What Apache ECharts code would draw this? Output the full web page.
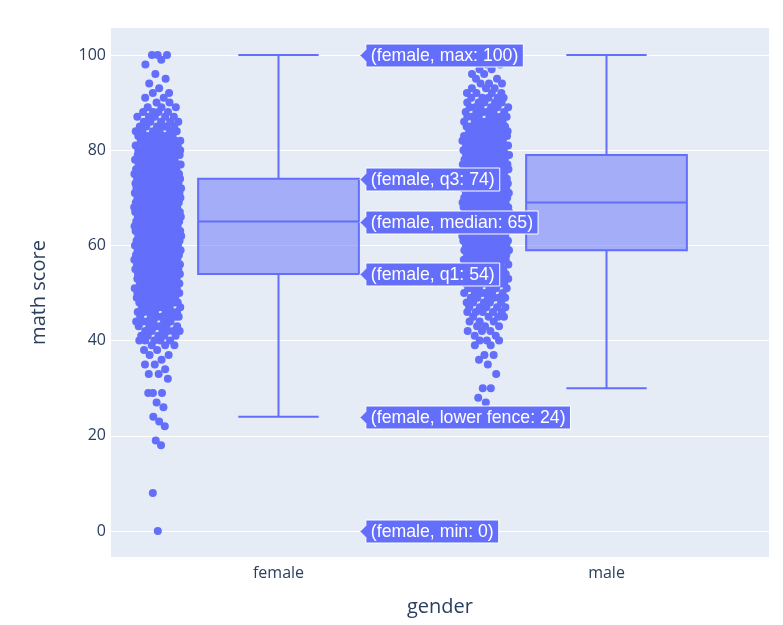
<!DOCTYPE html>
<html><head><meta charset="utf-8">
<script src="https://cdn.jsdelivr.net/npm/echarts@6/dist/echarts.min.js"></script>
<style>html,body{margin:0;padding:0;background:#fff}#c{width:783px;height:625px}</style>
</head><body><div id="c"></div><script>
// ---- data ----
const categories = ['female', 'male'];
const femaleScores = [0,8,18,19,22,23,24,26,27,29,32,33,34,35,36,37,38,39,
  40,41,42,43,44,45,46,47,48,49,50,51,52,53,54,55,56,57,58,59,
  60,61,62,63,64,65,66,67,68,69,70,71,72,73,74,75,76,77,78,79,
  80,81,82,83,84,85,86,87,88,89,90,91,92,93,94,95,96,98,99,100];
const femaleCounts = [1,1,1,1,1,1,1,1,1,3,1,2,1,2,1,2,2,3,
  5,5,6,6,6,7,7,7,8,8,8,8,8,8,10,11,11,11,11,12,
  13,13,13,13,13,13,14,14,14,14,14,13,13,13,16,12,11,11,10,10,
  9,8,8,7,6,6,5,5,4,3,2,2,2,1,1,1,1,1,1,3];
const maleScores = [27,28,30,33,35,36,37,39,
  40,41,42,43,44,45,46,47,48,49,50,51,52,53,54,55,56,57,58,59,
  60,61,62,63,64,65,66,67,68,69,70,71,72,73,74,75,76,77,78,79,
  80,81,82,83,84,85,86,87,88,89,90,91,92,93,94,95,96,97,98,99,100];
const maleCounts = [1,1,2,1,1,1,2,2,
  3,2,3,3,3,4,5,5,5,6,6,6,7,7,8,8,9,8,9,11,
  11,11,12,12,12,13,13,13,13,13,13,13,13,13,11,11,11,11,11,11,
  11,10,10,9,8,8,7,7,6,6,5,5,4,3,3,2,2,2,2,1,4];
// box stats: [lower fence, q1, median, q3, upper fence]
const boxStats = [[24,54,65,74,100],[30,59,69,79,100]];
// hover labels shown for female
const hoverNames = ['max','q3','median','q1','lower fence','min'];
const hoverValues = [100,74,65,54,24,0];
const yTicks = [0,20,40,60,80,100];

// ---- style / layout constants ----
const BLUE = '#636efa';
const TXT = '#2a3f5f';
const BOX_WIDTH = 0.49;
const POINT_OFFSET = -0.368;
const JITTER = 0.072;

function buildPoints(scores, counts, catIdx) {
  const vals = [];
  scores.forEach((s, k) => { for (let c = 0; c < counts[k]; c++) vals.push(s); });
  const n = vals.length, J = 6, MIN_SPAN = 2;
  const dens = vals.map((v, i) => {
    const i0 = Math.max(0, i - J), i1 = Math.min(n - 1, i + J);
    return (i1 - i0) / (vals[i1] - vals[i0] + MIN_SPAN);
  });
  const maxD = Math.max(...dens);
  return vals.map((v, i) => {
    const f = Math.min(1, Math.sqrt(dens[i] / (0.55 * maxD)));
    const u = ((0.5 + i * 0.6180339887) % 1) * 2 - 1;
    return [catIdx + POINT_OFFSET + u * f * JITTER, v];
  });
}

const pts = buildPoints(femaleScores, femaleCounts, 0).concat(buildPoints(maleScores, maleCounts, 1));
const boxData = boxStats.map((b, i) => [i].concat(b));
const hoverData = hoverValues.map((v, i) => [0, v, '(' + categories[0] + ', ' + hoverNames[i] + ': ' + v + ')']);

const HOVER_FONT = '17.7px Arial';
const mctx = document.createElement('canvas').getContext('2d');
mctx.font = HOVER_FONT;

const chart = echarts.init(document.getElementById('c'), null, {renderer: 'canvas'});
chart.setOption({
  animation: false,
  backgroundColor: '#fff',
  grid: {left: 111, top: 28, right: 14, bottom: 68, show: true, backgroundColor: '#E5ECF6', borderWidth: 0},
  xAxis: {
    type: 'value', min: -0.5107, max: 1.4954, minInterval: 1, maxInterval: 1,
    axisLine: {show: false}, axisTick: {show: false}, splitLine: {show: false},
    axisLabel: {
      showMinLabel: false, showMaxLabel: false, margin: 8,
      color: TXT, fontSize: 16, fontFamily: 'Open Sans',
      formatter: v => { const i = Math.round(v); return Math.abs(v - i) < 1e-6 && categories[i] ? categories[i] : ''; }
    },
    name: 'gender', nameLocation: 'middle', nameGap: 40,
    nameTextStyle: {color: TXT, fontSize: 20, fontFamily: 'Open Sans'}
  },
  yAxis: {
    type: 'value', min: -5.46, max: 105.67, minInterval: 20, maxInterval: 20,
    axisLine: {show: false}, axisTick: {show: false},
    splitLine: {show: true, showMinLine: false, showMaxLine: false, lineStyle: {color: '#fff', width: 1}},
    axisLabel: {
      showMinLabel: false, showMaxLabel: false, margin: 5,
      color: TXT, fontSize: 16, fontFamily: 'Open Sans',
      formatter: v => yTicks.indexOf(Math.round(v * 1000) / 1000) >= 0 ? String(v) : ''
    },
    name: 'math score', nameLocation: 'middle', nameGap: 62,
    nameTextStyle: {color: TXT, fontSize: 20, fontFamily: 'Open Sans'}
  },
  series: [
    {
      type: 'custom', z: 2, clip: false,
      data: boxData,
      encode: {x: 0, y: [1, 2, 3, 4, 5]},
      renderItem: (params, api) => {
        const c = api.value(0);
        const lf = api.value(1), q1 = api.value(2), md = api.value(3), q3 = api.value(4), uf = api.value(5);
        const L = api.coord([c - BOX_WIDTH / 2, q1]);
        const R = api.coord([c + BOX_WIDTH / 2, q3]);
        const cx = api.coord([c, md])[0];
        const capL = api.coord([c - BOX_WIDTH / 4, md])[0];
        const capR = api.coord([c + BOX_WIDTH / 4, md])[0];
        const yLf = api.coord([c, lf])[1], yUf = api.coord([c, uf])[1], yMd = api.coord([c, md])[1];
        const line = {stroke: BLUE, lineWidth: 2};
        return {type: 'group', children: [
          {type: 'rect', shape: {x: L[0], y: R[1], width: R[0] - L[0], height: L[1] - R[1]},
           style: {fill: 'rgba(99,110,250,0.5)', stroke: BLUE, lineWidth: 2}},
          {type: 'line', shape: {x1: L[0], y1: yMd, x2: R[0], y2: yMd}, style: line},
          {type: 'line', shape: {x1: cx, y1: R[1], x2: cx, y2: yUf}, style: line},
          {type: 'line', shape: {x1: cx, y1: L[1], x2: cx, y2: yLf}, style: line},
          {type: 'line', shape: {x1: capL, y1: yUf, x2: capR, y2: yUf}, style: line},
          {type: 'line', shape: {x1: capL, y1: yLf, x2: capR, y2: yLf}, style: line}
        ]};
      }
    },
    {
      type: 'scatter', z: 3, data: pts, symbol: 'circle', symbolSize: 8,
      itemStyle: {color: BLUE, opacity: 1}
    },
    {
      type: 'custom', z: 10, clip: false,
      data: hoverData,
      encode: {x: 0, y: 1},
      renderItem: (params, api) => {
        const v = api.value(1);
        const text = hoverData[params.dataIndex][2];
        const tip = api.coord([api.value(0) + BOX_WIDTH / 2, v]);
        const x0 = tip[0] + 1, y = Math.round(tip[1]) + 0.5;
        const ax = x0 + 6, h = 23, w = mctx.measureText(text).width + 10;
        return {type: 'group', children: [
          {type: 'polygon', shape: {points: [[x0, y], [ax, y - 6], [ax, y - h / 2], [ax + w, y - h / 2], [ax + w, y + h / 2], [ax, y + h / 2], [ax, y + 6]]},
           style: {fill: BLUE, stroke: '#fff', lineWidth: 1}},
          {type: 'text', style: {text: text, x: ax + 5, y: y + 1, verticalAlign: 'middle', textVerticalAlign: 'middle', fill: '#fff', font: HOVER_FONT}}
        ]};
      }
    }
  ]
});
</script></body></html>
